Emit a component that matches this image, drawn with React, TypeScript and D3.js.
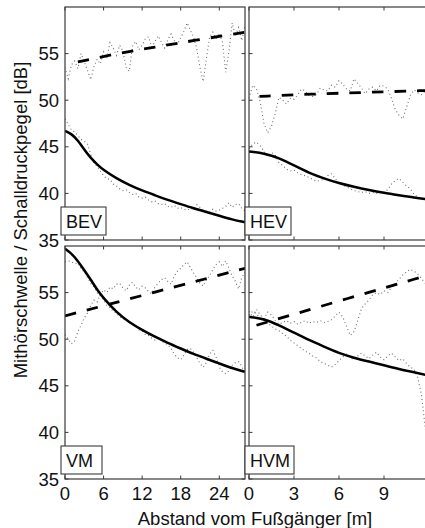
import React from "react";
import * as d3 from "d3";

const W = 425;
const H = 528;
const FONT = "'Liberation Sans', Arial, Helvetica, sans-serif";

// layout of the 2x2 grid (matlab style boxed axes)
const COLS = [
  { left: 65, right: 245, domain: [0, 28], ticks: [0, 6, 12, 18, 24] },
  { left: 249, right: 429, domain: [0, 12], ticks: [0, 3, 6, 9] },
];
const ROWS = [
  { top: 7, bottom: 240 },
  { top: 246, bottom: 479 },
];
const Y_DOMAIN = [35, 60];
const Y_TICKS = [35, 40, 45, 50, 55];

// sample spacing of the measured curves [m]
const STEP_LONG = 0.5;
const STEP_SHORT = 0.25;

// ---- BEV ----
const bevSplRaw = [
  53.5, 52.3, 53.8, 54.2, 53.4, 55.0, 54.1, 53.2, 52.2, 53.6, 54.4, 53.9, 55.2, 54.5, 56.2, 55.6, 54.8, 55.9, 55.3,
  53.5, 53.1, 55.8, 56.3, 55.4, 55.9, 56.6, 56.8, 55.7, 56.3, 56.9, 56.2, 55.6, 56.5, 57.1, 56.4, 56.0, 56.7, 57.4,
  58.3, 57.5, 56.8, 55.5, 53.5, 52.0, 54.5, 56.8, 57.3, 56.6, 57.2, 56.2, 53.0, 55.2, 58.3, 56.9, 57.8, 56.4, 58.0,
];
const bevMaskRaw = [
  48.0, 47.4, 46.8, 46.6, 46.2, 45.8, 45.6, 45.3, 44.2, 43.3, 42.9, 42.4, 41.9, 41.6, 41.5, 41.0, 40.8, 40.5, 40.3,
  40.4, 40.1, 39.9, 40.0, 39.6, 39.5, 39.6, 39.3, 39.1, 39.2, 38.9, 38.8, 38.9, 38.6, 38.5, 38.7, 38.4, 38.5, 38.3,
  38.2, 38.4, 38.3, 38.8, 38.5, 38.2, 38.1, 38.0, 38.3, 38.1, 38.2, 38.4, 38.6, 39.0, 38.5, 38.8, 38.9, 38.4, 38.1,
];
const bevSplFit: [number, number][] = [[2, 54.1], [8, 55.0], [14, 55.7], [20, 56.4], [28, 57.3]];
const bevMaskFit: [number, number][] = [
  [0, 46.7], [1, 46.4], [2, 45.7], [3, 44.7], [4, 43.8], [5, 43.1], [6, 42.5], [8, 41.6], [10, 40.9],
  [12, 40.3], [14, 39.8], [16, 39.3], [18, 38.85], [20, 38.4], [22, 38.0], [24, 37.6], [26, 37.2], [28, 36.9],
];

// ---- HEV ----
const hevSplRaw = [
  50.2, 51.6, 51.2, 49.8, 47.5, 46.5, 47.2, 48.6, 50.3, 50.0, 49.6, 50.2, 50.1, 50.6, 51.2, 51.0, 50.5, 50.4, 50.6,
  51.3, 51.1, 51.0, 51.6, 51.4, 52.1, 51.7, 51.2, 51.0, 52.3, 51.8, 51.3, 50.7, 51.2, 51.4, 51.0, 51.6, 51.5, 51.2,
  50.2, 49.0, 48.4, 48.0, 49.2, 50.5, 51.1, 50.8, 50.6, 51.0, 51.4,
];
const hevMaskRaw = [
  44.8, 45.3, 45.5, 45.1, 44.5, 44.0, 44.4, 44.1, 43.3, 43.0, 42.6, 42.4, 42.5, 42.2, 42.0, 41.9, 41.7, 41.5, 41.3,
  41.4, 41.5, 41.9, 42.1, 41.6, 41.0, 40.9, 40.7, 40.5, 40.3, 40.2, 40.1, 40.2, 40.0, 40.1, 40.0, 40.2, 40.1, 40.4,
  41.0, 41.4, 41.6, 41.2, 40.8, 40.5, 39.9, 39.6, 39.5, 39.4, 39.3,
];
const hevSplFit: [number, number][] = [[0.7, 50.4], [4, 50.65], [8, 50.85], [12, 51.05]];
const hevMaskFit: [number, number][] = [
  [0, 44.5], [1, 44.3], [2, 43.8], [3, 43.0], [4, 42.2], [5, 41.6], [6, 41.1], [7, 40.7], [8, 40.35],
  [9, 40.05], [10, 39.8], [11, 39.55], [12, 39.35],
];

// ---- VM ----
const vmSplRaw = [
  50.5, 50.0, 49.5, 49.8, 50.8, 51.5, 52.3, 52.8, 53.6, 54.2, 54.0, 54.8, 55.3, 55.0, 55.6, 55.4, 55.9, 56.0, 55.5,
  55.2, 55.8, 56.1, 55.6, 55.3, 55.7, 55.5, 55.1, 54.9, 55.6, 56.0, 56.4, 56.6, 56.2, 55.9, 56.8, 57.3, 57.6, 58.0,
  58.3, 57.7, 57.1, 56.6, 56.0, 55.7, 56.4, 56.8, 57.5, 58.0, 58.3, 57.8, 58.4, 57.6, 56.8, 56.2, 55.4, 56.6, 57.2,
];
const vmMaskRaw = [
  58.3, 58.4, 58.3, 58.1, 58.2, 57.6, 57.2, 56.6, 56.0, 55.6, 55.0, 54.6, 54.2, 53.6, 53.4, 53.0, 52.8, 52.4, 52.2,
  52.1, 51.8, 51.6, 51.4, 51.0, 50.9, 50.5, 50.4, 50.1, 49.9, 50.2, 49.8, 49.6, 49.4, 49.0, 48.4, 48.0, 47.8, 48.3,
  48.9, 49.0, 48.6, 48.0, 47.4, 47.0, 47.5, 48.4, 48.8, 48.1, 47.0, 46.5, 46.3, 46.6, 47.2, 47.5, 47.6, 47.1, 46.3,
];
const vmSplFit: [number, number][] = [[0, 52.5], [14, 55.05], [28, 57.6]];
const vmMaskFit: [number, number][] = [
  [0, 59.7], [1, 59.2], [2, 58.4], [3, 57.4], [4, 56.4], [5, 55.3], [6, 54.4], [8, 52.9], [10, 51.8],
  [12, 51.0], [14, 50.25], [16, 49.6], [18, 49.0], [20, 48.4], [22, 47.9], [24, 47.4], [26, 46.9], [28, 46.5],
];

// ---- HVM ----
const hvmSplRaw = [
  53.0, 52.4, 53.2, 52.6, 52.2, 52.9, 52.6, 52.0, 51.6, 51.8, 52.0, 51.7, 51.9, 51.6, 51.8, 52.0, 51.7, 51.9, 51.8,
  52.0, 51.8, 51.9, 52.1, 52.5, 52.9, 52.4, 51.4, 50.4, 50.8, 52.0, 53.3, 53.8, 54.2, 54.8, 55.0, 54.8, 55.2, 55.0,
  55.6, 56.0, 56.4, 56.9, 57.2, 57.5, 57.3, 57.0, 56.5, 56.0, 55.5,
];
const hvmMaskRaw = [
  52.6, 53.0, 52.7, 52.3, 52.0, 51.7, 51.4, 51.1, 50.9, 50.6, 50.3, 49.9, 49.6, 49.3, 49.0, 48.7, 48.5, 48.2, 48.0,
  47.6, 47.4, 47.2, 47.0, 47.3, 47.7, 48.1, 48.4, 48.0, 47.8, 48.2, 48.5, 48.2, 47.9, 48.3, 48.6, 48.1, 47.8, 48.2,
  48.5, 48.1, 47.7, 47.9, 47.4, 47.0, 46.8, 45.9, 44.0, 40.5, 36.5,
];
const hvmSplFit: [number, number][] = [[0.5, 51.5], [6, 54.1], [12, 56.9]];
const hvmMaskFit: [number, number][] = [
  [0, 52.4], [1, 52.2], [2, 51.5], [3, 50.7], [4, 49.9], [5, 49.2], [6, 48.5], [7, 48.0], [8, 47.6],
  [9, 47.2], [10, 46.8], [11, 46.45], [12, 46.1],
];

const PANELS = [
  { name: "BEV", row: 0, col: 0, step: STEP_LONG, splRaw: bevSplRaw, maskRaw: bevMaskRaw, splFit: bevSplFit, maskFit: bevMaskFit, boxW: 45 },
  { name: "HEV", row: 0, col: 1, step: STEP_SHORT, splRaw: hevSplRaw, maskRaw: hevMaskRaw, splFit: hevSplFit, maskFit: hevMaskFit, boxW: 46 },
  { name: "VM", row: 1, col: 0, step: STEP_LONG, splRaw: vmSplRaw, maskRaw: vmMaskRaw, splFit: vmSplFit, maskFit: vmMaskFit, boxW: 41 },
  { name: "HVM", row: 1, col: 1, step: STEP_SHORT, splRaw: hvmSplRaw, maskRaw: hvmMaskRaw, splFit: hvmSplFit, maskFit: hvmMaskFit, boxW: 49 },
];

const TICK = 3.5;
const FRAME = "#3a3a3a";
const DOTS = "#6e6e6e";

function Panel({ p }: { p: (typeof PANELS)[number] }) {
  const col = COLS[p.col];
  const row = ROWS[p.row];
  const x = d3.scaleLinear().domain(col.domain).range([col.left, col.right]);
  const y = d3.scaleLinear().domain(Y_DOMAIN).range([row.bottom, row.top]);

  const rawLine = d3
    .line<number>()
    .x((_, i) => x(i * p.step))
    .y((v) => y(v));
  // smooth fitted curves
  const fitLine = d3
    .line<[number, number]>()
    .x((d) => x(d[0]))
    .y((d) => y(d[1]))
    .curve(d3.curveBasis);

  const clipId = `clip-${p.name}`;
  const boxH = 28;

  return (
    <g>
      <clipPath id={clipId}>
        <rect x={col.left} y={row.top} width={col.right - col.left} height={row.bottom - row.top} />
      </clipPath>

      {/* measured curves, dotted */}
      <g clipPath={`url(#${clipId})`} fill="none">
        <path d={rawLine(p.splRaw) || ""} stroke={DOTS} strokeWidth={1.1} strokeDasharray="1 2.8" />
        <path d={rawLine(p.maskRaw) || ""} stroke={DOTS} strokeWidth={1.1} strokeDasharray="1 2.8" />
        <path d={fitLine(p.splFit) || ""} stroke="#000" strokeWidth={2.8} strokeDasharray="11.5 11" />
        <path d={fitLine(p.maskFit) || ""} stroke="#000" strokeWidth={2.5} />
      </g>

      {/* box + inward ticks on all sides */}
      <rect
        x={col.left}
        y={row.top}
        width={col.right - col.left}
        height={row.bottom - row.top}
        fill="none"
        stroke={FRAME}
        strokeWidth={1.2}
      />
      {col.ticks.map((t) => (
        <g key={`xt${t}`} stroke={FRAME} strokeWidth={1}>
          <line x1={x(t)} x2={x(t)} y1={row.bottom} y2={row.bottom - TICK} />
          <line x1={x(t)} x2={x(t)} y1={row.top} y2={row.top + TICK} />
        </g>
      ))}
      {Y_TICKS.map((t) => (
        <g key={`yt${t}`} stroke={FRAME} strokeWidth={1}>
          <line x1={col.left} x2={col.left + TICK} y1={y(t)} y2={y(t)} />
          <line x1={col.right} x2={col.right - TICK} y1={y(t)} y2={y(t)} />
        </g>
      ))}

      {p.col === 0 &&
        Y_TICKS.map((t) => (
          <text key={`yl${t}`} x={col.left - 6} y={y(t)} dy="0.36em" textAnchor="end" fontSize={18.5}>
            {t}
          </text>
        ))}
      {p.row === 1 &&
        col.ticks.map((t) => (
          <text key={`xl${t}`} x={x(t)} y={row.bottom + 21} textAnchor="middle" fontSize={18.5}>
            {t}
          </text>
        ))}

      {/* panel name */}
      <rect
        x={col.left - 4}
        y={row.bottom - 5 - boxH}
        width={p.boxW}
        height={boxH}
        fill="#fff"
        stroke={FRAME}
        strokeWidth={1.1}
      />
      <text x={col.left + 1} y={row.bottom - 12} fontSize={18}>
        {p.name}
      </text>
    </g>
  );
}

export default function App() {
  return (
    <svg
      width={W}
      height={H}
      style={{ position: "absolute", left: 0, top: 0, background: "#fff" }}
      fontFamily={FONT}
      fill="#111"
    >
      <rect width={W} height={H} fill="#fff" />
      {PANELS.map((p) => (
        <Panel key={p.name} p={p} />
      ))}
      <text x={255} y={525} textAnchor="middle" fontSize={18.5}>
        Abstand vom Fußgänger [m]
      </text>
      <text transform="translate(27, 220) rotate(-90)" textAnchor="middle" fontSize={18.5}>
        Mithörschwelle / Schalldruckpegel [dB]
      </text>
    </svg>
  );
}
